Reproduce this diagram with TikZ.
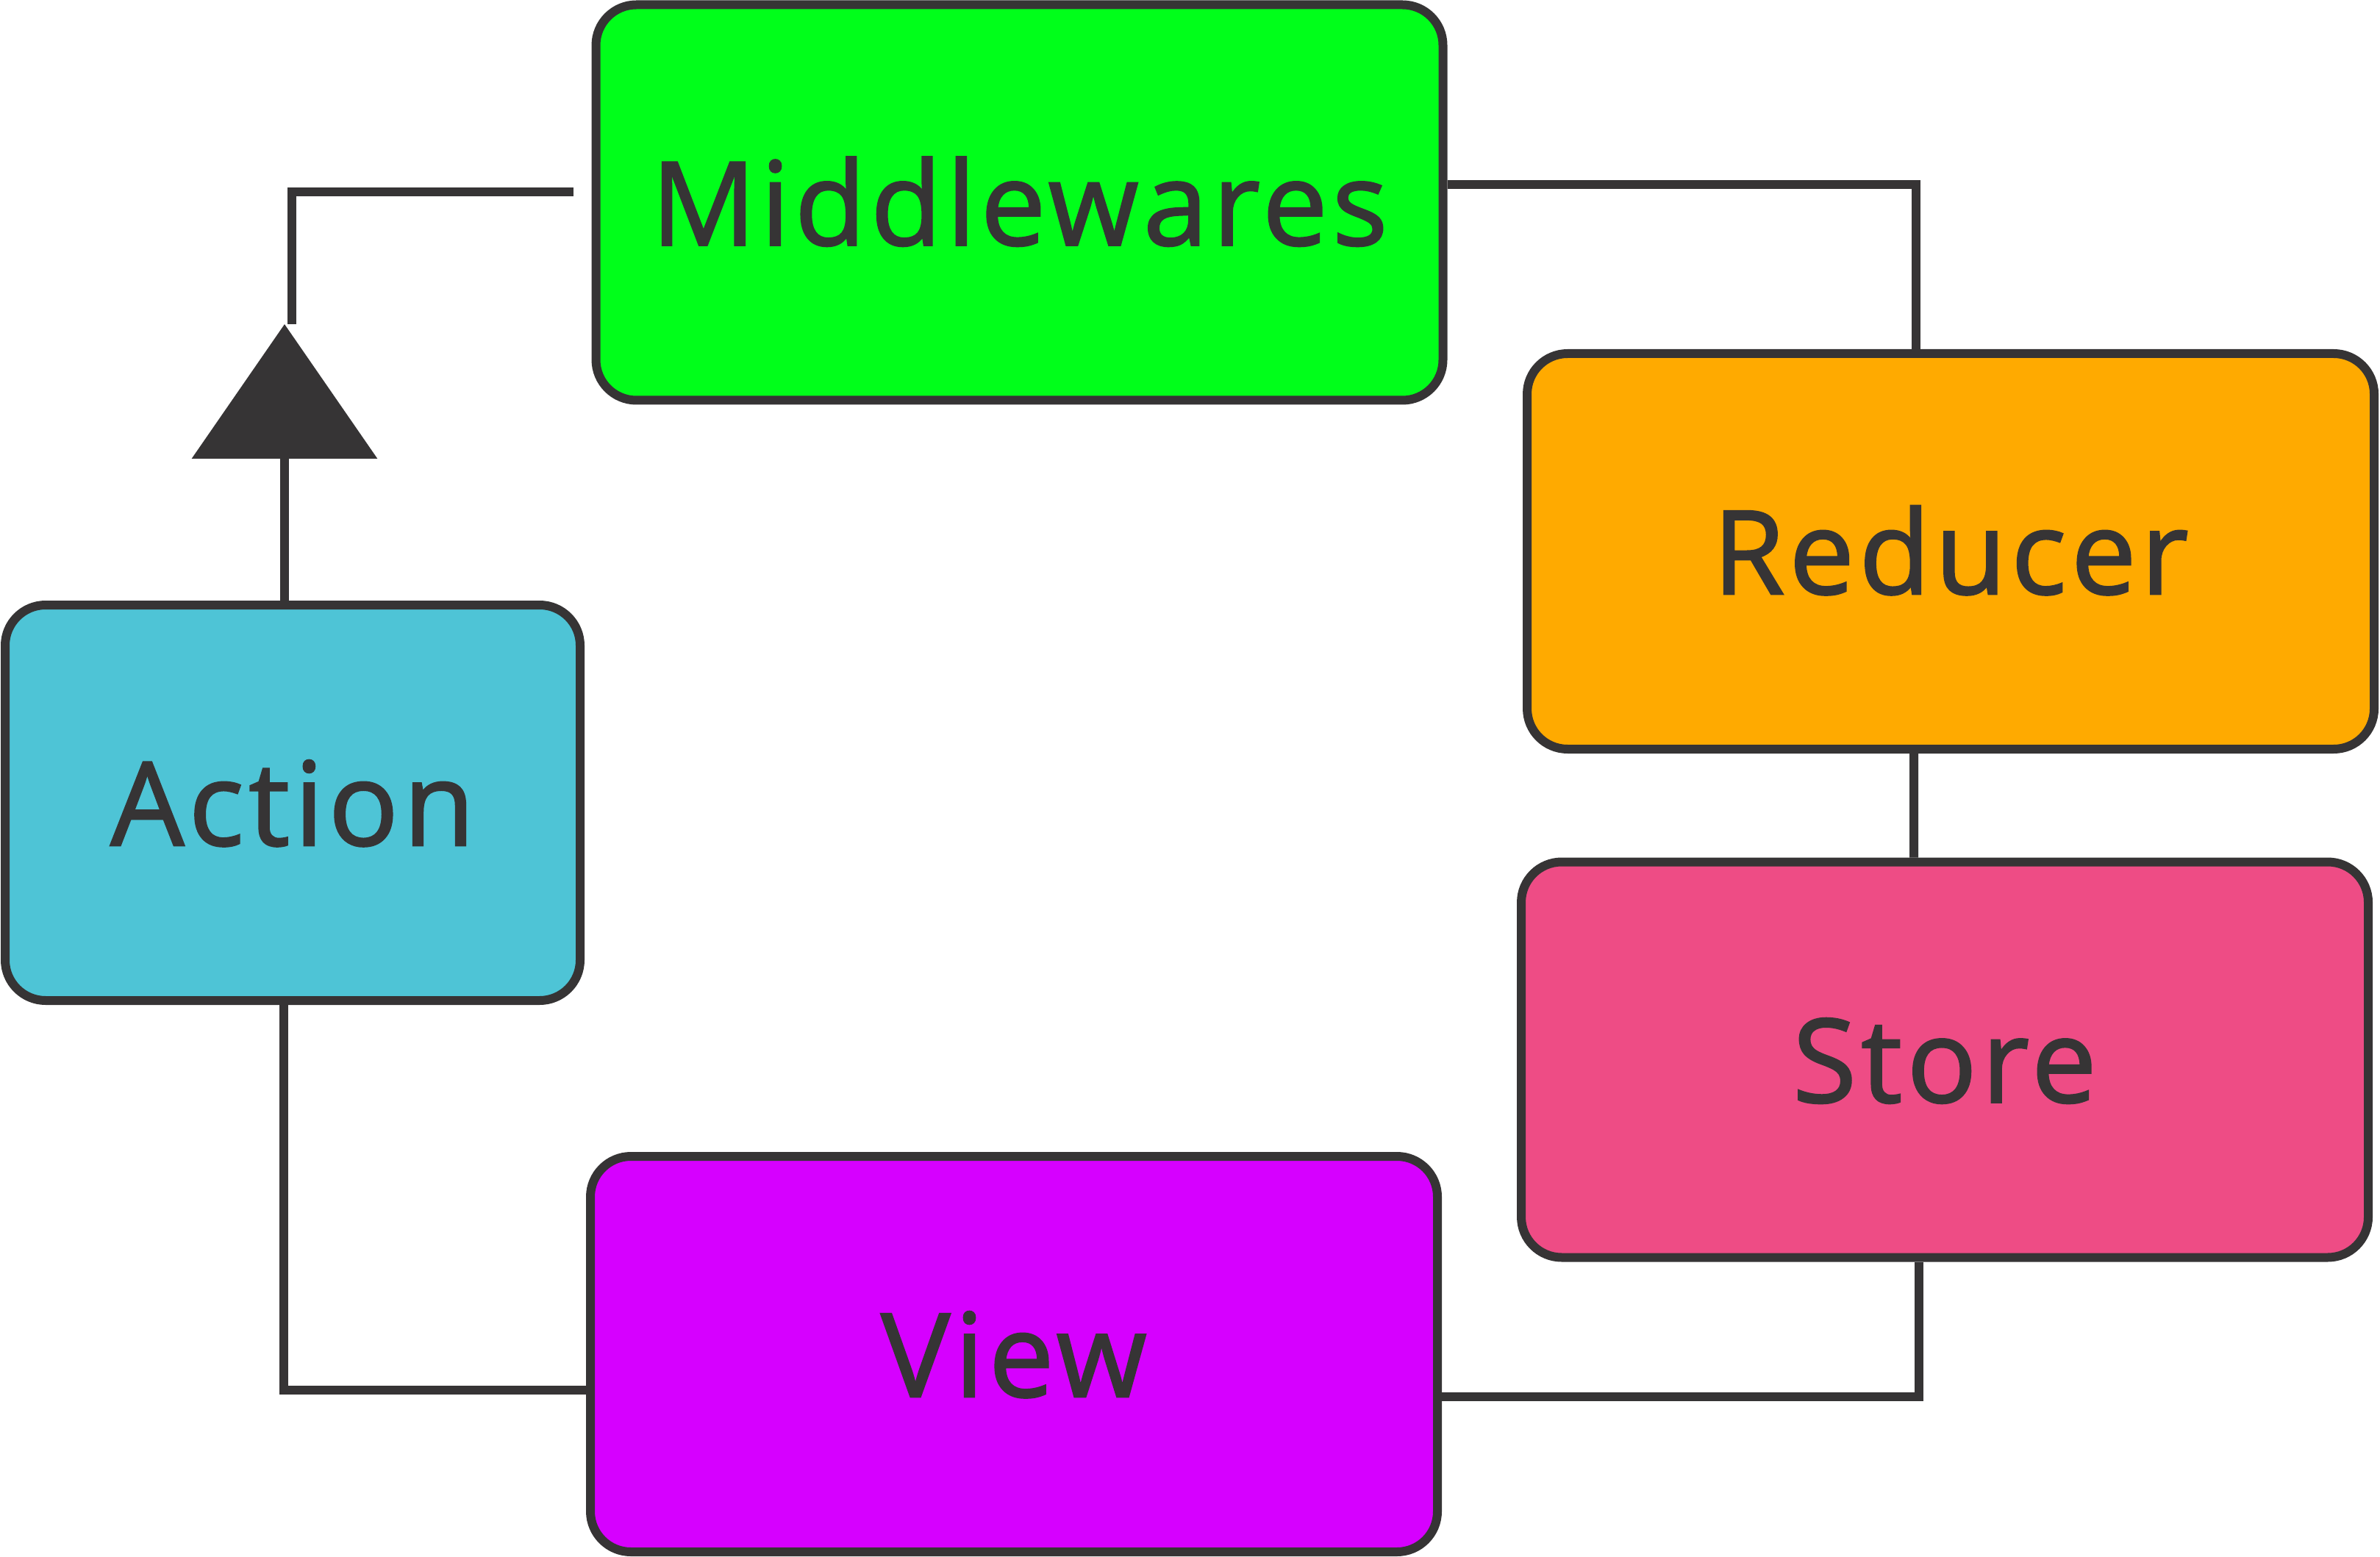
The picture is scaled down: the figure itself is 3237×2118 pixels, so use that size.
\documentclass[tikz,border=0pt]{standalone}
\usepackage{fontspec}
\usepackage{xcolor}
\usepackage{tikz}
\usetikzlibrary{arrows.meta}
\newfontfamily\boxfont{Open Sans}[LetterSpace=4.0,FakeBold=1.6]
\definecolor{mwgreen}{RGB}{0, 255, 26}
\definecolor{reducerorange}{RGB}{255, 170, 0}
\definecolor{storepink}{RGB}{238, 76, 133}
\definecolor{actioncyan}{RGB}{78, 196, 214}
\definecolor{viewmagenta}{RGB}{214, 0, 255}
\definecolor{wiregray}{RGB}{54, 52, 53}

\begin{document}
\begin{tikzpicture}[x=0.1mm,y=-0.1mm,
  box/.style={draw=wiregray,line width=1.2mm,rounded corners=5.5mm,
    minimum width=115.2mm,minimum height=53.8mm,text=wiregray,
    text height=11.6mm,text depth=0mm,font=\boxfont\fontsize{45}{54}\selectfont},
  wire/.style={draw=wiregray,line width=1.2mm}]
  \useasboundingbox (0,0) rectangle (3237,2118);

  \node[box,fill=mwgreen] (mw) at (1386.5,275.5) {Middlewares};
  \node[box,fill=reducerorange] (reducer) at (2653,750) {Reducer};
  \node[box,fill=storepink] (store) at (2645,1441.5) {Store};
  \node[box,fill=actioncyan,minimum width=78.2mm] (action) at (398,1092) {Action};
  \node[box,fill=viewmagenta] (view) at (1379,1842) {View};

  \coordinate (tipA) at (387,441);
  \coordinate (tipB) at (397,441);
  \coordinate (mwin) at (780,261);

  \draw[wire,-{Triangle[length=18.3mm,width=25mm]}] (tipA |- action.north) -- (tipA);
  \draw[wire] (tipB) |- (mwin);
  \draw[wire] ([yshift=2.45mm]mw.east) -| ([xshift=-4.7mm]reducer.north);
  \draw[wire] ([xshift=-5mm]reducer.south) -- ([xshift=-4.2mm]store.north);
  \draw[wire] ([xshift=-3.5mm]store.south) |- ([yshift=-5.8mm]view.east);
  \draw[wire] ([yshift=-4.9mm]view.west) -| ([xshift=-1.2mm]action.south);
\end{tikzpicture}
\end{document}
